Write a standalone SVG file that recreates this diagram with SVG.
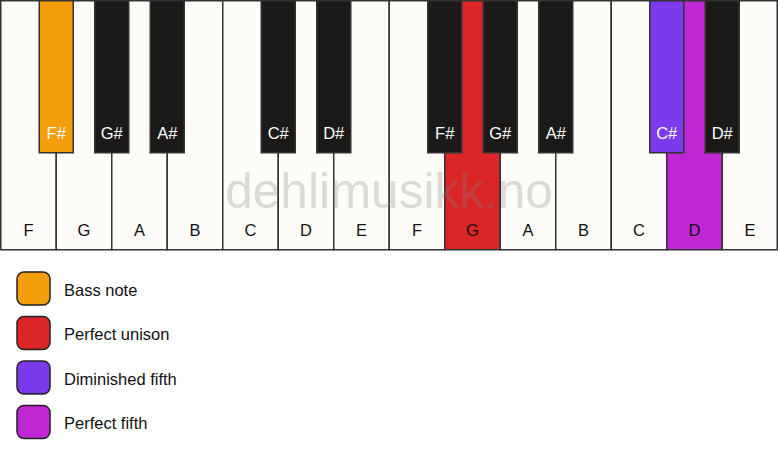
<svg xmlns="http://www.w3.org/2000/svg" width="778" height="461" viewBox="0 0 778 461">
<style>
.w{fill:#fdfcf8;stroke:#333;stroke-width:1.5}
.b{fill:#1b1a19;stroke:#333;stroke-width:1.5}
.wl{font-family:"Liberation Sans",Arial,sans-serif;font-size:16.5px;fill:#111;text-anchor:middle}
.bl{font-family:"Liberation Sans",Arial,sans-serif;font-size:16.5px;fill:#fff;text-anchor:middle}
.lg{stroke:#222;stroke-width:1.5}
.lt{font-family:"Liberation Sans",Arial,sans-serif;font-size:16.5px;fill:#111}
</style>
<rect width="778" height="461" fill="#ffffff"/>
<g id="white-keys">
<g id="w-F1"><rect class="w" x="0.75" y="0.75" width="55.5" height="249"/><text class="wl" x="28.5" y="236">F</text></g>
<g id="w-G1"><rect class="w" x="56.25" y="0.75" width="55.5" height="249"/><text class="wl" x="84" y="236">G</text></g>
<g id="w-A1"><rect class="w" x="111.75" y="0.75" width="55.5" height="249"/><text class="wl" x="139.5" y="236">A</text></g>
<g id="w-B1"><rect class="w" x="167.25" y="0.75" width="55.5" height="249"/><text class="wl" x="195" y="236">B</text></g>
<g id="w-C1"><rect class="w" x="222.75" y="0.75" width="55.5" height="249"/><text class="wl" x="250.5" y="236">C</text></g>
<g id="w-D1"><rect class="w" x="278.25" y="0.75" width="55.5" height="249"/><text class="wl" x="306" y="236">D</text></g>
<g id="w-E1"><rect class="w" x="333.75" y="0.75" width="55.5" height="249"/><text class="wl" x="361.5" y="236">E</text></g>
<g id="w-F2"><rect class="w" x="389.25" y="0.75" width="55.5" height="249"/><text class="wl" x="417" y="236">F</text></g>
<g id="w-G2"><rect class="w" x="444.75" y="0.75" width="55.5" height="249" style="fill:#dc2626"/><text class="wl" x="472.5" y="236">G</text></g>
<g id="w-A2"><rect class="w" x="500.25" y="0.75" width="55.5" height="249"/><text class="wl" x="528" y="236">A</text></g>
<g id="w-B2"><rect class="w" x="555.75" y="0.75" width="55.5" height="249"/><text class="wl" x="583.5" y="236">B</text></g>
<g id="w-C2"><rect class="w" x="611.25" y="0.75" width="55.5" height="249"/><text class="wl" x="639" y="236">C</text></g>
<g id="w-D2"><rect class="w" x="666.75" y="0.75" width="55.5" height="249" style="fill:#c026d3"/><text class="wl" x="694.5" y="236">D</text></g>
<g id="w-E2"><rect class="w" x="722.25" y="0.75" width="55" height="249"/><text class="wl" x="750" y="236">E</text></g>
</g>
<g id="black-keys">
<g id="b-Fs1"><rect class="b" x="39.25" y="0.75" width="34" height="152" style="fill:#f59e0b"/><text class="bl" x="56.25" y="138.5">F#</text></g>
<g id="b-Gs1"><rect class="b" x="94.75" y="0.75" width="34" height="152"/><text class="bl" x="111.75" y="138.5">G#</text></g>
<g id="b-As1"><rect class="b" x="150.25" y="0.75" width="34" height="152"/><text class="bl" x="167.25" y="138.5">A#</text></g>
<g id="b-Cs1"><rect class="b" x="261.25" y="0.75" width="34" height="152"/><text class="bl" x="278.25" y="138.5">C#</text></g>
<g id="b-Ds1"><rect class="b" x="316.75" y="0.75" width="34" height="152"/><text class="bl" x="333.75" y="138.5">D#</text></g>
<g id="b-Fs2"><rect class="b" x="427.75" y="0.75" width="34" height="152"/><text class="bl" x="444.75" y="138.5">F#</text></g>
<g id="b-Gs2"><rect class="b" x="483.25" y="0.75" width="34" height="152"/><text class="bl" x="500.25" y="138.5">G#</text></g>
<g id="b-As2"><rect class="b" x="538.75" y="0.75" width="34" height="152"/><text class="bl" x="555.75" y="138.5">A#</text></g>
<g id="b-Cs2"><rect class="b" x="649.75" y="0.75" width="34" height="152" style="fill:#7c3aed"/><text class="bl" x="666.75" y="138.5">C#</text></g>
<g id="b-Ds2"><rect class="b" x="705.25" y="0.75" width="34" height="152"/><text class="bl" x="722.25" y="138.5">D#</text></g>
</g>
<text id="watermark" x="389" y="208" font-family="Liberation Sans,Arial,sans-serif" font-size="49.5" fill="#808080" fill-opacity="0.28" text-anchor="middle">dehlimusikk.no</text>
<g id="legend">
<g id="lg-bass"><rect class="lg" x="17" y="272" width="33" height="33" rx="7" fill="#f59e0b"/><text class="lt" x="64" y="295.5">Bass note</text></g>
<g id="lg-unison"><rect class="lg" x="17" y="316.5" width="33" height="33" rx="7" fill="#dc2626"/><text class="lt" x="64" y="340">Perfect unison</text></g>
<g id="lg-dim5"><rect class="lg" x="17" y="361" width="33" height="33" rx="7" fill="#7c3aed"/><text class="lt" x="64" y="384.5">Diminished fifth</text></g>
<g id="lg-p5"><rect class="lg" x="17" y="405.5" width="33" height="33" rx="7" fill="#c026d3"/><text class="lt" x="64" y="429">Perfect fifth</text></g>
</g>
<g id="connectors"/>
</svg>
